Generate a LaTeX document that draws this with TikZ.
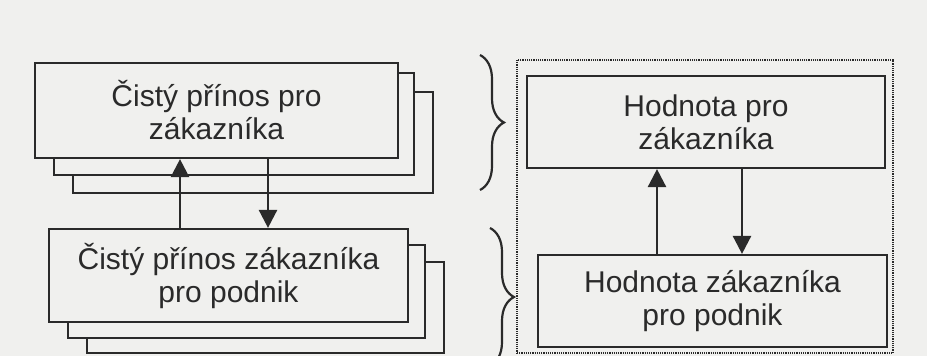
\documentclass[tikz,border=0pt]{standalone}
\usepackage{fontspec}
\setmainfont{Liberation Sans}
\usetikzlibrary{arrows.meta,decorations.pathreplacing}
\definecolor{paper}{HTML}{F0F0EE}
\definecolor{ink}{HTML}{2A2A2A}
\tikzset{
  frontbox/.style={draw=ink, line width=2.2pt, fill=paper, inner sep=0pt,
    align=center, text=ink, font=\fontsize{30}{33}\selectfont},
  backbox/.style={draw=ink, line width=2.2pt, fill=paper, inner sep=0pt},
  flow/.style={draw=ink, line width=2.6pt, -{Triangle[width=18pt,length=18pt]}},
  groupframe/.style={draw=ink, line width=2.2pt, dash pattern=on 1.2pt off 1pt},
  bracket/.style={draw=ink, line width=2.2pt, decorate,
    decoration={brace, amplitude=24pt}}
}
\begin{document}
\begin{tikzpicture}[x=1pt, y=-1pt]
  \fill[paper] (0,0) rectangle (927,356);
  \useasboundingbox (0,0) rectangle (927,356);

  % upper stack: net benefit for the customer
  \node[backbox, minimum width=360pt, minimum height=101pt] (tl3) at (253,142.5) {};
  \node[backbox, minimum width=360pt, minimum height=102pt] (tl2) at (234,124) {};
  \node[frontbox, minimum width=363pt, minimum height=95pt] (tl) at (216.5,110.5)
    {Čistý přínos pro\\zákazníka};

  % lower stack: net customer benefit for the company
  \node[backbox, minimum width=357pt, minimum height=91pt] (bl3) at (265.5,307.5) {};
  \node[backbox, minimum width=357pt, minimum height=93pt] (bl2) at (246.5,291.5) {};
  \node[frontbox, minimum width=359pt, minimum height=93pt] (bl) at (228.5,275.5)
    {Čistý přínos zákazníka\\pro podnik};

  % arrows between the left stacks
  \coordinate (upL) at (180,0);
  \coordinate (dnL) at (268,0);
  \draw[flow] (bl.north -| upL) -- (tl.south -| upL);
  \draw[flow] (tl.south -| dnL) -- (bl.north -| dnL);

  % braces
  \draw[bracket] (480,55) -- (480,190);
  \draw[bracket] (490,228) -- (490,366);

  % dotted frame with the value boxes
  \node[groupframe, minimum width=376pt, minimum height=293pt, inner sep=0pt] (frame) at (705,206.5) {};
  \node[frontbox, minimum width=358pt, minimum height=92pt] (tr) at (706,122)
    {Hodnota pro\\zákazníka};
  \node[frontbox, minimum width=349pt, minimum height=92pt] (br) at (712.5,301)
    {Hodnota zákazníka\\pro podnik};

  \coordinate (upR) at (657,0);
  \coordinate (dnR) at (742,0);
  \draw[flow] (br.north -| upR) -- (tr.south -| upR);
  \draw[flow] (tr.south -| dnR) -- (br.north -| dnR);
\end{tikzpicture}
\end{document}
